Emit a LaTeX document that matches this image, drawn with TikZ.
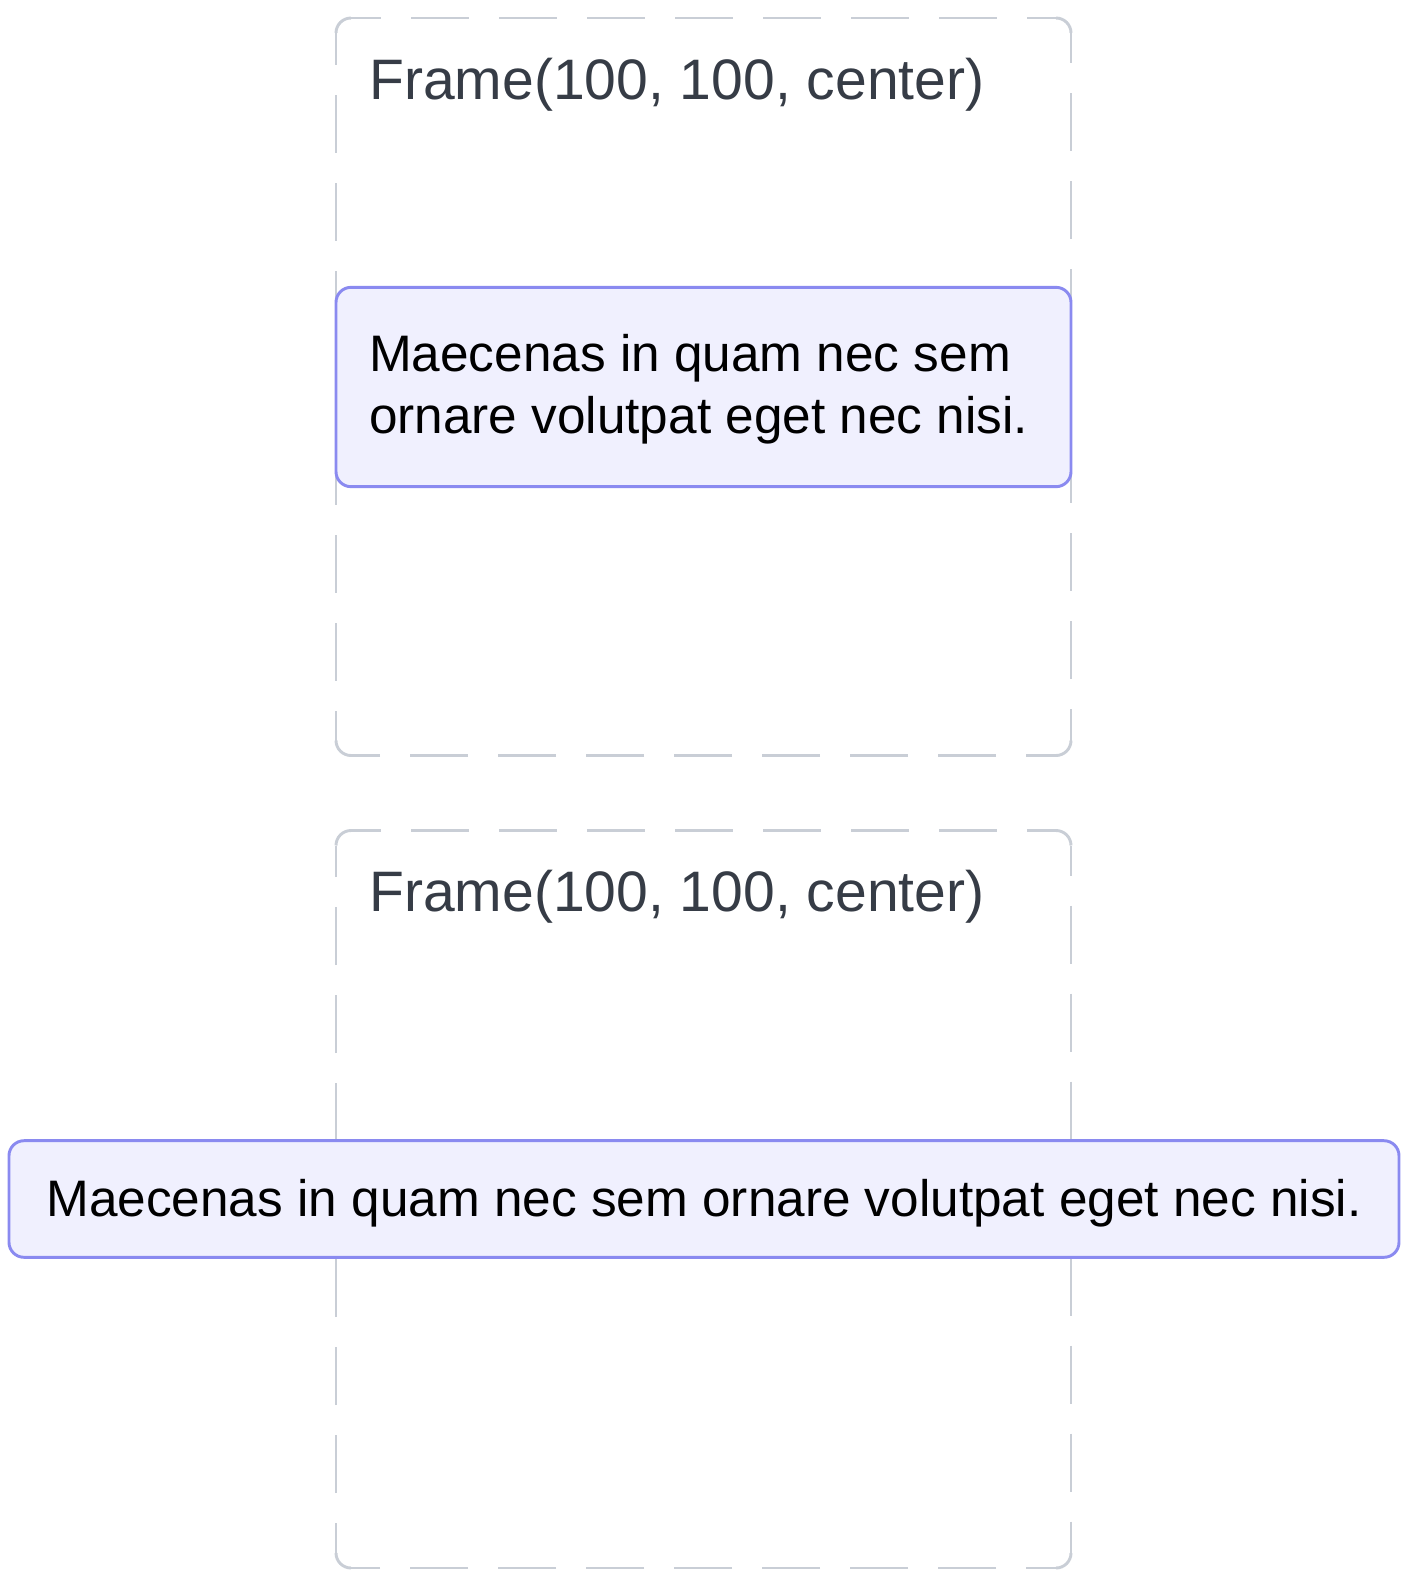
\documentclass[tikz,border=0pt]{standalone}
\usepackage{fontspec}
\setmainfont{Liberation Sans}
\definecolor{framegray}{HTML}{C9CED6}
\definecolor{labelgray}{HTML}{363C46}
\definecolor{noteblue}{HTML}{8A8AF0}
\definecolor{notefill}{HTML}{F0F0FE}
\tikzset{framedash/.style={draw=framegray,line width=2.2pt,dash pattern=on 43.5pt off 22.5pt,dash phase=21pt}}
\tikzset{framecorner/.style={draw=framegray,line width=2.2pt,rounded corners=11.25pt}}
\tikzset{framelabel/.style={anchor=base west,text=labelgray,inner sep=0pt,font=\fontsize{42.8}{51}\selectfont}}
\tikzset{notebox/.style={draw=noteblue,fill=notefill,line width=2.2pt,rounded corners=11.25pt,
  inner sep=0pt,font=\fontsize{38.5}{46.2}\selectfont}}

\begin{document}
\begin{tikzpicture}[x=0.75pt,y=-0.75pt]
        \useasboundingbox (0,0) rectangle (1410,1586);
        \foreach \t/\b in {18/755.5,830.5/1568} {
            \draw[framedash] (351,\t) -- (1056,\t);
            \draw[framedash] (1071,\t+15) -- (1071,\b-15);
            \draw[framedash] (1056,\b) -- (351,\b);
            \draw[framedash] (336,\b-15) -- (336,\t+15);
            \draw[framecorner] (336,\t+15) -- (336,\t) -- (351,\t)
                (1056,\t) -- (1071,\t) -- (1071,\t+15)
                (1071,\b-15) -- (1071,\b) -- (1056,\b)
                (351,\b) -- (336,\b) -- (336,\b-15);
        }
        \node[framelabel] (label1) at (369,99) {Frame(100, 100, center)};
        \node[notebox,text width=501.75pt,align=left,minimum width=551.25pt,minimum height=149.5pt,
            text height=34.9pt,text depth=57.8pt] (note1) at (703.5,387)
            {\spaceskip=0pt\xspaceskip=0pt
             \mbox{Maecenas in quam nec sem}\\\mbox{ornare volutpat eget nec nisi.}};
        \node[framelabel] (label2) at (369,911.5) {Frame(100, 100, center)};
        \node[notebox,minimum width=1042.5pt,minimum height=87.45pt,
            text height=34.9pt,text depth=8.2pt] (note2) at (704,1199)
            {Maecenas in quam nec sem ornare volutpat eget nec nisi.};
\end{tikzpicture}
\end{document}
